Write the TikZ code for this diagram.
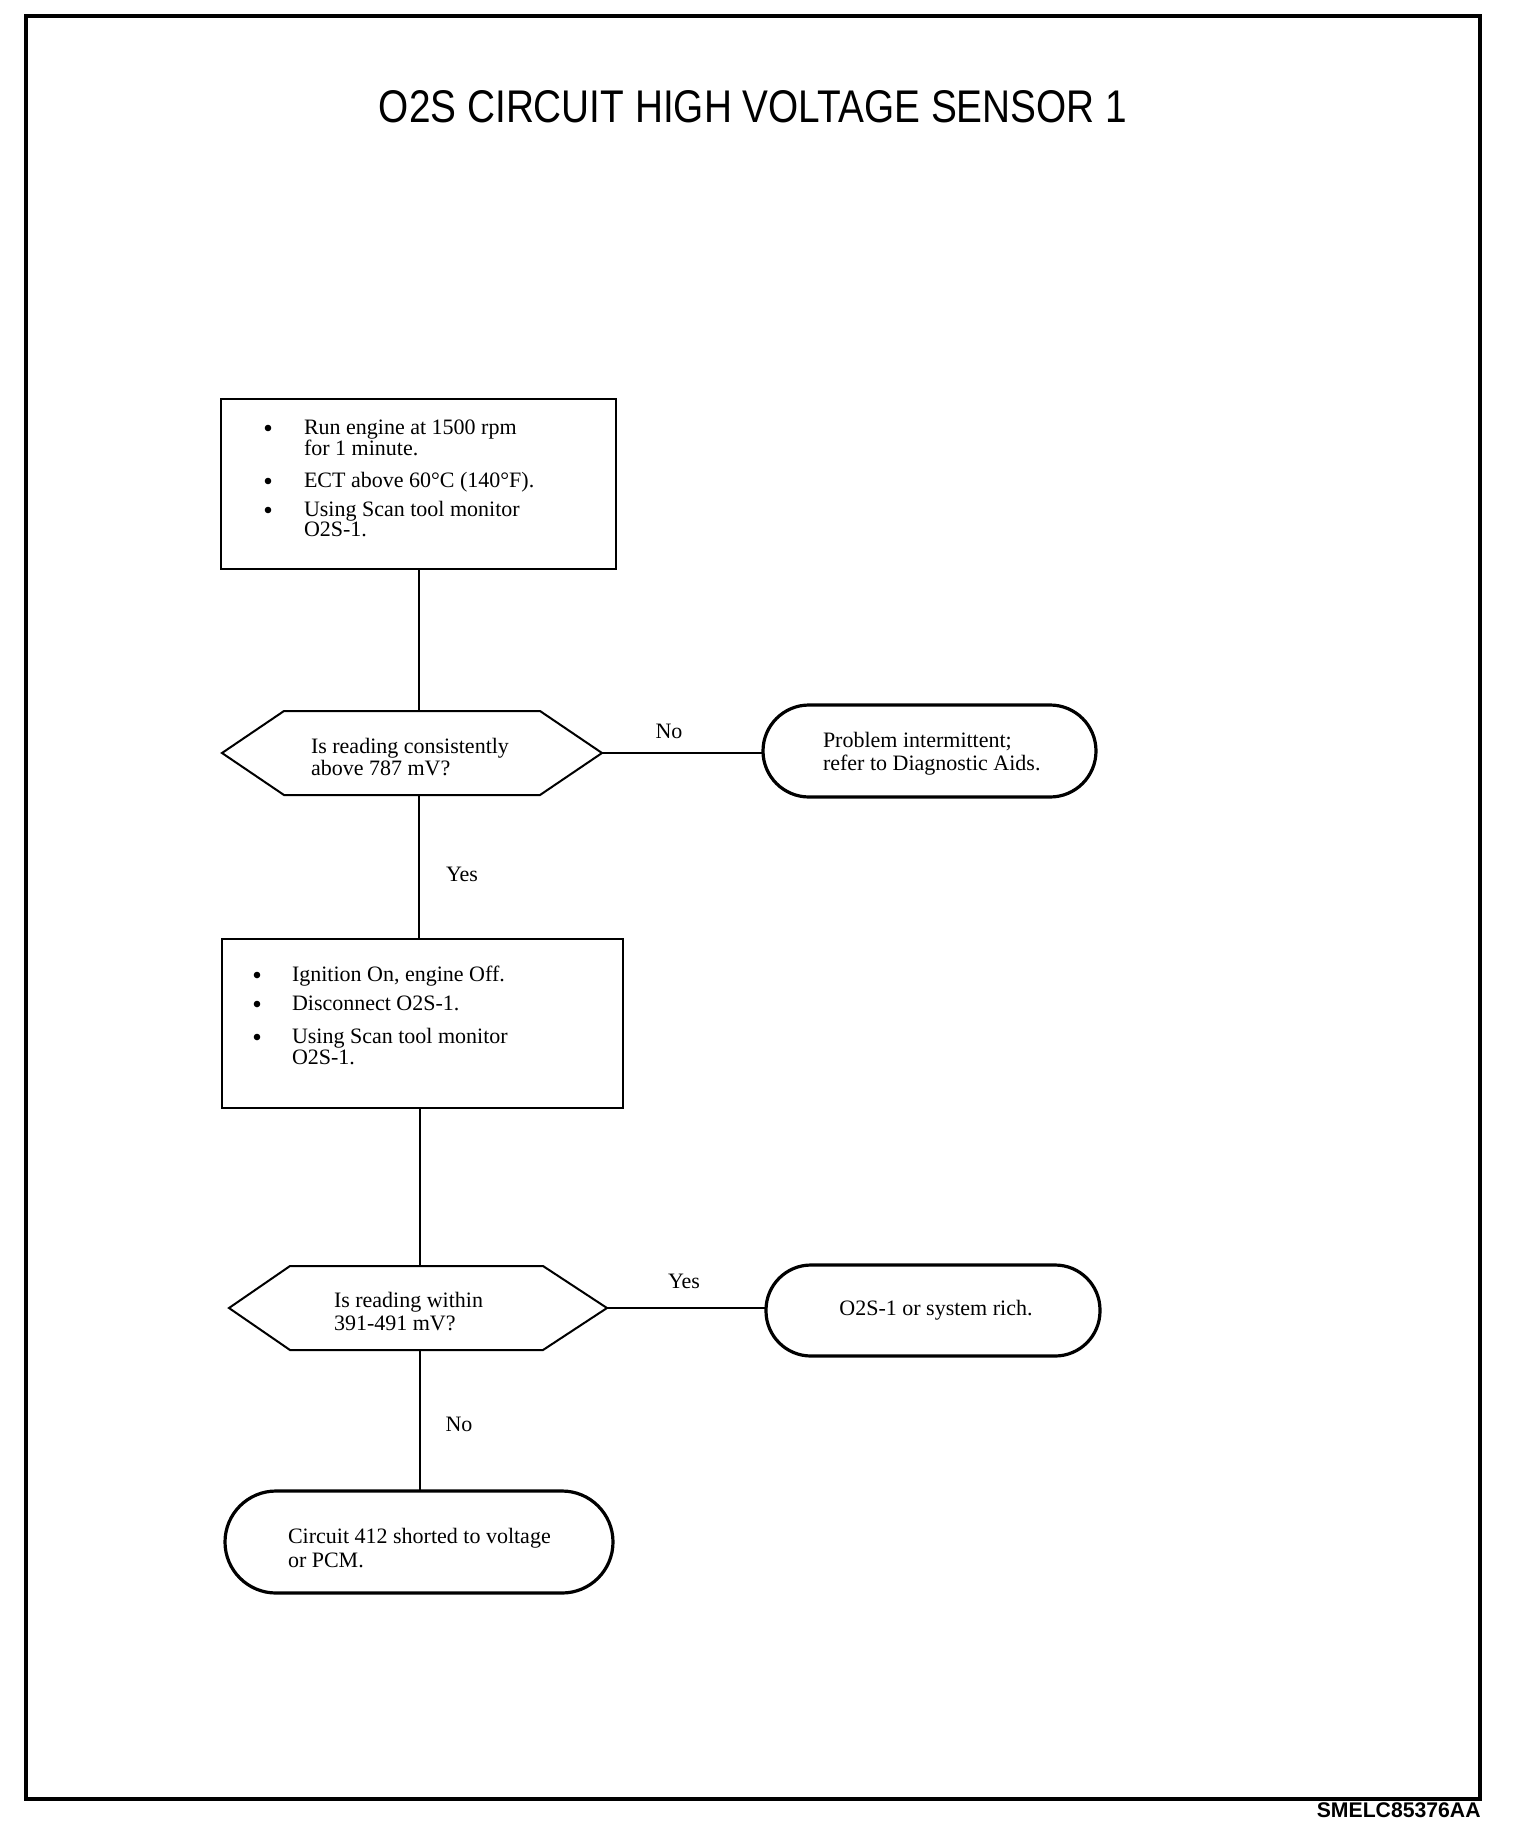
\documentclass[tikz,border=0pt]{standalone}
\usepackage{fontspec}
\setmainfont{Liberation Serif}
\newfontfamily\titlefont{Liberation Sans}
\usetikzlibrary{calc}
\newcommand{\txtfont}{\fontsize{11pt}{11pt}\selectfont}
\tikzset{
  stepbox/.style={draw, line width=1.1pt, inner sep=0pt, outer sep=0pt, anchor=north west},
  hexbox/.style={draw=none, inner sep=0pt, outer sep=0pt, anchor=north west, minimum height=42pt},
  hexline/.style={line width=1pt, line join=miter},
  endoval/.style={draw, line width=1.6pt, inner sep=0pt, outer sep=0pt, anchor=north west},
  txt/.style={font=\txtfont, inner sep=0pt, outer sep=0pt, anchor=base west},
  bul/.style={circle, fill=black, draw=none, inner sep=0pt, outer sep=0pt, minimum size=3.3pt},
  lbl/.style={font=\txtfont, inner sep=0pt, outer sep=0pt, anchor=base},
  conn/.style={line width=1pt}
}
\begin{document}
\begin{tikzpicture}[x=0.5pt, y=-0.5pt]
\useasboundingbox[fill=white] (0,0) rectangle (1520,1836);
% frame
\draw[line width=1.8pt] (26,16) rectangle (1480,1799);
% title
\node[inner sep=0pt, anchor=base] (title) at (753,122)
  {\resizebox{374pt}{16pt}{\titlefont O2S CIRCUIT HIGH VOLTAGE SENSOR 1}};
% footer
\node[inner sep=0pt, anchor=base east, font=\titlefont\bfseries\fontsize{10.6pt}{12pt}\selectfont] (code) at (1481,1817) {SMELC85376AA};

% box 1
\node[stepbox, minimum width=197.5pt, minimum height=85pt] (box1) at (221,399) {};
\node[bul] (b1a) at (268,428) {};
\node[txt] (t1a) at (304,434) {Run engine at 1500 rpm};
\node[txt] (t1b) at (304,455) {for 1 minute.};
\node[bul] (b1b) at (268,481) {};
\node[txt] (t1c) at (304,487) {ECT above 60°C (140°F).};
\node[bul] (b1c) at (268,510) {};
\node[txt] (t1d) at (304,516) {Using Scan tool monitor};
\node[txt] (t1e) at (304,536) {O2S-1.};

% hexagon 1
\node[hexbox, minimum width=190pt] (hex1) at (222,711) {};
\draw[hexline] (hex1.west) -- ([xshift=31pt]hex1.north west) -- ([xshift=-31pt]hex1.north east)
  -- (hex1.east) -- ([xshift=-31pt]hex1.south east) -- ([xshift=31pt]hex1.south west) -- cycle;
\node[txt] (h1a) at (311,753) {Is reading consistently};
\node[txt] (h1b) at (311,775) {above 787 mV?};

% oval 1
\node[endoval, minimum width=166.5pt, minimum height=46pt, rounded corners=23pt] (ov1) at (763,705) {};
\node[txt] (o1a) at (823,747) {Problem intermittent;};
\node[txt] (o1b) at (823,770) {refer to Diagnostic Aids.};

% box 2
\node[stepbox, minimum width=200.5pt, minimum height=84.5pt] (box2) at (222,939) {};
\node[bul] (b2a) at (257,975) {};
\node[txt] (t2a) at (292,981) {Ignition On, engine Off.};
\node[bul] (b2b) at (257,1004) {};
\node[txt] (t2b) at (292,1010) {Disconnect O2S-1.};
\node[bul] (b2c) at (257,1037) {};
\node[txt] (t2c) at (292,1043) {Using Scan tool monitor};
\node[txt] (t2d) at (292,1064) {O2S-1.};

% hexagon 2
\node[hexbox, minimum width=189pt] (hex2) at (229,1266) {};
\draw[hexline] (hex2.west) -- ([xshift=30.5pt]hex2.north west) -- ([xshift=-32pt]hex2.north east)
  -- (hex2.east) -- ([xshift=-32pt]hex2.south east) -- ([xshift=30.5pt]hex2.south west) -- cycle;
\node[txt] (h2a) at (334,1307) {Is reading within};
\node[txt] (h2b) at (334,1330) {391-491 mV?};

% oval 2
\node[endoval, minimum width=167pt, minimum height=45.5pt, rounded corners=22.5pt] (ov2) at (766,1265) {};
\node[lbl] (o2a) at (936,1315) {O2S-1 or system rich.};

% oval 3
\node[endoval, minimum width=194pt, minimum height=51pt, rounded corners=25.5pt] (ov3) at (225,1491) {};
\node[txt] (o3a) at (288,1543) {Circuit 412 shorted to voltage};
\node[txt] (o3b) at (288,1567) {or PCM.};

% connectors
\coordinate (c1) at (419,569);
\draw[conn] (c1) -- (c1 |- hex1.north);
\coordinate (c2) at (419,795);
\draw[conn] (c2) -- (c2 |- box2.north);
\coordinate (c3) at (420,1108);
\draw[conn] (c3) -- (c3 |- hex2.north);
\coordinate (c4) at (420,1350);
\draw[conn] (c4) -- (c4 |- ov3.north);
\draw[conn] (hex1.east) -- (ov1.west |- hex1.east);
\draw[conn] (hex2.east) -- (ov2.west |- hex2.east);

% labels
\node[lbl] (lno1) at (669,738) {No};
\node[lbl] (lyes1) at (462,881) {Yes};
\node[lbl] (lyes2) at (684,1288) {Yes};
\node[lbl] (lno2) at (459,1431) {No};
\end{tikzpicture}
\end{document}
